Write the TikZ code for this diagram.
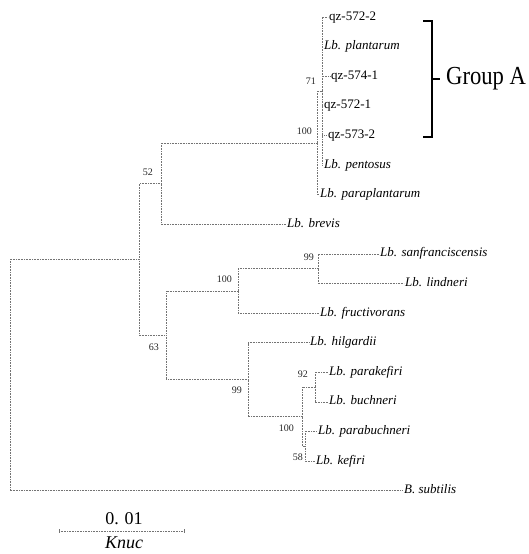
\documentclass[tikz,border=0pt]{standalone}
\usepackage{fontspec}
\usepackage{graphicx}
\setmainfont{Liberation Serif}
\begin{document}
\begin{tikzpicture}[x=1pt,y=-1pt,
  br/.style={draw=black!55, densely dotted, line width=0.6pt},
  leaf/.style={anchor=west, inner sep=1pt, text height=9pt, text depth=3pt, font=\fontsize{13}{13}\selectfont\itshape},
  strain/.style={anchor=west, inner sep=1pt, text height=9pt, text depth=3pt, font=\fontsize{13}{13}\selectfont},
  boot/.style={anchor=east, inner sep=0pt, font=\fontsize{10}{10}\selectfont, text=black!85},
  bracket/.style={draw=black, line width=2.6pt},
  big/.style={inner sep=0pt, font=\fontsize{18}{18}\selectfont}
]
\useasboundingbox (0,0) rectangle (528,554);

% internal nodes
\coordinate (root) at (10,374.9);
\coordinate (ing) at (139,259.3);
\coordinate (n52) at (161,183.5);
\coordinate (nA100) at (317,142.8);
\coordinate (n71) at (322,91);
\coordinate (n63) at (166,335.1);
\coordinate (nF100) at (238,290.8);
\coordinate (n99a) at (318,268.6);
\coordinate (n99b) at (248,379.5);
\coordinate (nB100) at (302,416.6);
\coordinate (n92) at (315,387);
\coordinate (n58) at (305,446.2);

% leaves
\node[strain] (q1) at (328,17) {qz-572-2};
\node[leaf] (plan) at (323,46.6) {Lb. plantarum};
\node[strain] (q2) at (330,76.2) {qz-574-1};
\node[strain] (q3) at (323,105.8) {qz-572-1};
\node[strain] (q4) at (327,135.4) {qz-573-2};
\node[leaf] (pent) at (323,165) {Lb. pentosus};
\node[leaf] (parapl) at (319,194.6) {Lb. paraplantarum};
\node[leaf] (brev) at (286,224.2) {Lb. brevis};
\node[leaf] (sanf) at (379,253.8) {Lb. sanfranciscensis};
\node[leaf] (lind) at (404,283.4) {Lb. lindneri};
\node[leaf] (fruc) at (319,313) {Lb. fructivorans};
\node[leaf] (hilg) at (309,342.6) {Lb. hilgardii};
\node[leaf] (park) at (328,372.2) {Lb. parakefiri};
\node[leaf] (buch) at (328,401.8) {Lb. buchneri};
\node[leaf] (parb) at (317,431.4) {Lb. parabuchneri};
\node[leaf] (kef) at (315,461) {Lb. kefiri};
\node[leaf] (subt) at (403,490.6) {B. subtilis};

% branches
\draw[br] (root) |- (ing);
\draw[br] (root) |- (subt.west);
\draw[br] (ing) |- (n52);
\draw[br] (ing) |- (n63);
\draw[br] (n52) |- (nA100);
\draw[br] (n52) |- (brev.west);
\draw[br] (nA100) |- (n71);
\draw[br] (nA100) |- (parapl.west);
\foreach \c in {q1,plan,q2,q3,q4,pent} \draw[br] (n71) |- (\c.west);
\draw[br] (n63) |- (nF100);
\draw[br] (n63) |- (n99b);
\draw[br] (nF100) |- (n99a);
\draw[br] (nF100) |- (fruc.west);
\draw[br] (n99a) |- (sanf.west);
\draw[br] (n99a) |- (lind.west);
\draw[br] (n99b) |- (hilg.west);
\draw[br] (n99b) |- (nB100);
\draw[br] (nB100) |- (n92);
\draw[br] (nB100) |- (n58);
\draw[br] (n92) |- (park.west);
\draw[br] (n92) |- (buch.west);
\draw[br] (n58) |- (parb.west);
\draw[br] (n58) |- (kef.west);

% bootstrap values
\node[boot] (b71) at (316,81) {71};
\node[boot] (bA100) at (312,131) {100};
\node[boot] (b52) at (153,172) {52};
\node[boot] (b63) at (159,347) {63};
\node[boot] (bF100) at (232,279) {100};
\node[boot] (b99a) at (314,257) {99};
\node[boot] (b99b) at (242,390) {99};
\node[boot] (b92) at (308,374) {92};
\node[boot] (bB100) at (294,428) {100};
\node[boot] (b58) at (303,457) {58};

% Group A bracket
\coordinate (bt) at (423,21);
\coordinate (bb) at (423,137);
\coordinate (bm) at (432,79);
\coordinate (bmt) at (440,79);
\draw[bracket] (bt) -- ++(9,0) |- (bb);
\draw[bracket] (bm) -- (bmt);
\node[anchor=west, inner sep=0pt, font=\fontsize{26}{26}\selectfont] (grp) at (446,79) {\scalebox{0.87}[1]{Group A}};

% scale bar
\coordinate (sbL) at (59,531);
\coordinate (sbR) at (184,531);
\draw[br] (sbL) -- (sbR);
\draw[draw=black!55, line width=0.5pt] (sbL) ++(0,-2) -- ++(0,4);
\draw[draw=black!55, line width=0.5pt] (sbR) ++(0,-2) -- ++(0,4);
\node[big] (sbv) at (124,519) {0. 01};
\node[big, font=\fontsize{18}{18}\selectfont\itshape] (sbk) at (124,543) {Knuc};
\end{tikzpicture}
\end{document}
